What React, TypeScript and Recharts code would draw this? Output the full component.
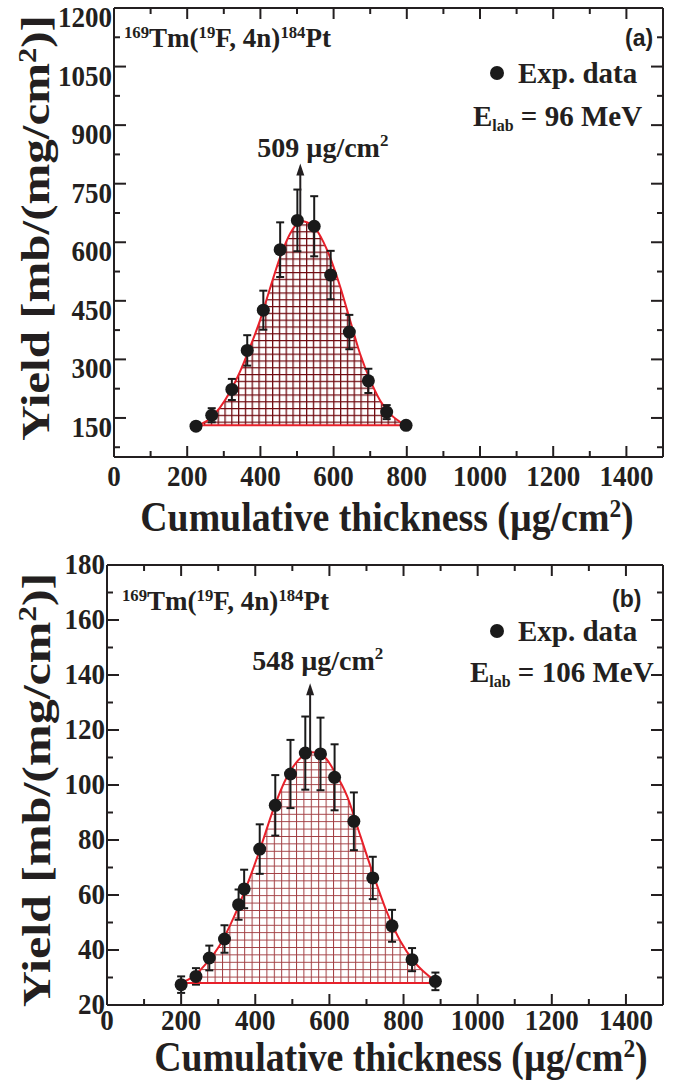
import React from 'react';
import { ComposedChart, Scatter, Area, XAxis, YAxis, ErrorBar, ReferenceLine } from 'recharts';

// ---- panel (a): Elab = 96 MeV ----
const thicknessA = [224, 267, 322, 364, 408, 454, 501, 547, 592, 643, 695, 745, 798];
const yieldA = [129, 157, 223, 323, 426, 581, 656, 641, 516, 370, 245, 165, 131];
const errA = [8, 18, 27, 39, 50, 70, 79, 77, 62, 44, 31, 18, 8];
// gaussian fit
const fitXA = [228, 262, 290, 317, 344, 372, 399, 426, 454, 481, 512, 545, 572, 595, 618, 645, 672, 700, 727, 754, 795];
const fitYA = [131, 148, 177, 217, 268, 332, 400, 481, 562, 622, 654, 641, 601, 550, 486, 400, 315, 247, 195, 161, 132];
const fitBaseA = 131;
const peakA = 509;

// ---- panel (b): Elab = 106 MeV ----
const thicknessB = [200, 240, 276, 317, 355, 370, 412, 454, 495, 535, 576, 614, 666, 717, 769, 823, 886];
const yieldB = [27.4, 30.4, 37.1, 44, 56.5, 62.2, 76.7, 92.6, 104, 111.6, 111.3, 102.8, 86.8, 66.2, 48.8, 36.5, 28.6];
const errB = [3, 3, 4.5, 5, 5.5, 7, 9, 11, 12.4, 13.3, 13.2, 12, 10.5, 7.7, 5.8, 4.2, 3.2];
const fitXB = [200, 233, 269, 305, 341, 378, 414, 450, 486, 522, 553, 585, 616, 648, 684, 720, 756, 792, 828, 887];
const fitYB = [28, 30.4, 35.3, 41.9, 51.6, 63.7, 77.1, 91.6, 103.1, 109.8, 111.9, 110.4, 104.4, 95.9, 81.3, 66.8, 53.5, 43.1, 35.9, 28.6];
const fitBaseB = 28;
const peakB = 548;

// ---- axes ----
const xTicks = [0, 100, 200, 300, 400, 500, 600, 700, 800, 900, 1000, 1100, 1200, 1300, 1400];
const yTicksA = [75, 150, 225, 300, 375, 450, 525, 600, 675, 750, 825, 900, 975, 1050, 1125, 1200];
const yTicksB = [20, 30, 40, 50, 60, 70, 80, 90, 100, 110, 120, 130, 140, 150, 160, 170, 180];

const FONT = "'Liberation Serif', 'Times New Roman', Times, serif";
const INK = '#231f20';
const RED = '#e8202a';

const sup = { fontSize: '0.62em', position: 'relative' as const, top: '-0.55em' };
const sub = { fontSize: '0.55em', position: 'relative' as const, top: '0.3em' };

function Txt({ x, y, size, children, family = FONT, center = false, style = {} }: any) {
  return (
    <div
      style={{
        position: 'absolute', left: x, top: y, fontFamily: family, fontWeight: 'bold', fontSize: size,
        lineHeight: 1, whiteSpace: 'nowrap', color: INK,
        transform: center ? 'translate(-50%, -50%)' : 'translateY(-50%)', ...style,
      }}
    >
      {children}
    </div>
  );
}

const tickText = (x: number, y: number, v: any, anchor: string) => (
  <text transform={`translate(${x},${y}) scale(0.9,1)`} textAnchor={anchor} fill={INK}
    style={{ fontFamily: FONT, fontWeight: 'bold', fontSize: 30 }}>{v}</text>
);

function Panel(props: any) {
  const { top, margin, points, fit, fitBase, yDomain, yTicks, yStep, yLabelDy, xLabelDy,
    arrow, arrowText, textDx, textGap, gridId, gridSize, gridColor, gridWidth } = props;

  const xTick = (p: any) => {
    const major = p.payload.value % 200 === 0;
    return (
      <g>
        <line x1={p.x} y1={p.y} x2={p.x} y2={p.y - (major ? 11 : 6)} stroke={INK} strokeWidth={2} />
        {major && tickText(p.x, p.y + xLabelDy, p.payload.value, 'middle')}
      </g>
    );
  };
  const topTick = (p: any) => {
    const major = p.payload.value % 200 === 0;
    return <line x1={p.x} y1={p.y} x2={p.x} y2={p.y + (major ? 11 : 6)} stroke={INK} strokeWidth={2} />;
  };
  const yTick = (p: any) => {
    const major = p.payload.value % yStep === 0;
    return (
      <g>
        <line x1={p.x} y1={p.y} x2={p.x + (major ? 12 : 6)} y2={p.y} stroke={INK} strokeWidth={2} />
        {major && tickText(p.x - 2, p.y + yLabelDy, p.payload.value, 'end')}
      </g>
    );
  };
  const rightTick = (p: any) => {
    const major = p.payload.value % yStep === 0;
    return <line x1={p.x} y1={p.y} x2={p.x - (major ? 12 : 6)} y2={p.y} stroke={INK} strokeWidth={2} />;
  };
  const arrowShape = (p: any) => (
    <g>
      <line x1={p.x1} y1={p.y1} x2={p.x2} y2={p.y2 + 8} stroke={INK} strokeWidth={2} />
      <path d={`M${p.x2} ${p.y2} L${p.x2 - 4} ${p.y2 + 12} L${p.x2 + 4} ${p.y2 + 12} Z`} fill={INK} />
      <text x={p.x2 + textDx} y={p.y2 - textGap} fill={INK} style={{ fontFamily: FONT, fontWeight: 'bold', fontSize: 28 }}>
        {arrowText} µg/cm<tspan dy={-11} fontSize={17}>2</tspan>
      </text>
    </g>
  );
  const axisLine = { stroke: INK, strokeWidth: 2 };

  return (
    <div style={{ position: 'absolute', left: 0, top, width: 683, height: 540 }}>
      <ComposedChart width={683} height={540} margin={margin}>
        <defs>
          <pattern id={gridId} width={gridSize} height={gridSize} patternUnits="userSpaceOnUse">
            <path d={`M0 0.5 H${gridSize} M0.5 0 V${gridSize}`} stroke={gridColor} strokeWidth={gridWidth} />
          </pattern>
        </defs>
        <XAxis dataKey="x" type="number" domain={[0, 1500]} ticks={xTicks} interval={0} allowDataOverflow
          tickSize={0} tickMargin={0} tickLine={false} axisLine={axisLine} tick={xTick} height={1} />
        <XAxis xAxisId="top" dataKey="x" orientation="top" type="number" domain={[0, 1500]} ticks={xTicks} interval={0}
          allowDataOverflow tickSize={0} tickMargin={0} tickLine={false} axisLine={axisLine} tick={topTick} height={1} />
        <YAxis dataKey="y" type="number" domain={yDomain} ticks={yTicks} interval={0} allowDataOverflow
          tickSize={0} tickMargin={0} tickLine={false} axisLine={axisLine} tick={yTick} width={60} />
        <YAxis yAxisId="right" dataKey="y" orientation="right" type="number" domain={yDomain} ticks={yTicks} interval={0}
          allowDataOverflow tickSize={0} tickMargin={0} tickLine={false} axisLine={axisLine} tick={rightTick} width={1} />
        {/* invisible copy of the points so the mirrored frame axes get drawn */}
        <Scatter data={points} dataKey="y" xAxisId="top" yAxisId="right" isAnimationActive={false}
          legendType="none" shape={() => <g />} />
        <Scatter data={points} dataKey="y" isAnimationActive={false}
          shape={(p: any) => <circle cx={p.cx} cy={p.cy} r={6.5} fill="#1a1a1a" />}>
          <ErrorBar dataKey="err" direction="y" width={4} stroke="#1a1a1a" strokeWidth={2} isAnimationActive={false} />
        </Scatter>
        <Area data={fit} dataKey="y" type="monotone" baseValue={fitBase} stroke={RED} strokeWidth={2}
          fill={`url(#${gridId})`} fillOpacity={1} isAnimationActive={false} dot={false} activeDot={false} />
        <ReferenceLine segment={[{ x: fit[0].x, y: fitBase }, { x: fit[fit.length - 1].x, y: fitBase }]}
          stroke={RED} strokeWidth={2} />
        <ReferenceLine segment={arrow} shape={arrowShape} />
      </ComposedChart>
    </div>
  );
}

const zip = (xs: number[], ys: number[], es?: number[]) =>
  xs.map((x, i) => ({ x, y: ys[i], ...(es ? { err: es[i] } : {}) }));

export default function App() {
  const yTitle = (cy: number, size: number) => (
    <Txt x={36} y={cy} size={size} center style={{ transform: 'translate(-50%, -50%) rotate(-90deg) scaleY(0.8)' }}>
      Yield [mb/(mg/cm<span style={sup}>2</span>)]
    </Txt>
  );
  const xTitle = (cy: number, cx: number) => (
    <Txt x={cx} y={cy} size={42} center style={{ transform: 'translate(-50%, -50%) scaleX(0.9)' }}>
      Cumulative thickness (µg/cm<span style={sup}>2</span>)
    </Txt>
  );
  const reaction = (x: number, y: number) => (
    <Txt x={x} y={y} size={27}>
      <span style={sup}>169</span>Tm(<span style={sup}>19</span>F, 4n)<span style={sup}>184</span>Pt
    </Txt>
  );
  const legend = (y: number) => (
    <>
      <div style={{ position: 'absolute', left: 490, top: y - 7, width: 14, height: 14, borderRadius: 7, background: '#1a1a1a' }} />
      <Txt x={518} y={y} size={29}>Exp. data</Txt>
    </>
  );

  return (
    <div style={{ position: 'absolute', left: 0, top: 0, width: 683, height: 1080, background: '#fff' }}>
      <Panel
        top={0}
        margin={{ top: 7, right: 19, bottom: 82, left: 54 }}
        points={zip(thicknessA, yieldA, errA)}
        fit={zip(fitXA, fitYA)}
        fitBase={fitBaseA}
        yDomain={[50, 1200]}
        yTicks={yTicksA}
        yStep={150}
        yLabelDy={19}
        xLabelDy={29}
        arrow={[{ x: peakA, y: 654 }, { x: peakA, y: 802 }]}
        arrowText={peakA}
        textDx={-43}
        textGap={6}
        gridId="gridA"
        gridSize={6.8}
        gridColor="#700a10"
        gridWidth={1.6}
      />
      <Panel
        top={540}
        margin={{ top: 24, right: 19, bottom: 74, left: 47 }}
        points={zip(thicknessB, yieldB, errB)}
        fit={zip(fitXB, fitYB)}
        fitBase={fitBaseB}
        yDomain={[20, 180]}
        yTicks={yTicksB}
        yStep={20}
        yLabelDy={9}
        xLabelDy={25}
        arrow={[{ x: peakB, y: 112 }, { x: peakB, y: 137 }]}
        arrowText={peakB}
        textDx={-58}
        textGap={13}
        gridId="gridB"
        gridSize={7.4}
        gridColor="#a03c40"
        gridWidth={1}
      />
      {yTitle(228, 49)}
      {yTitle(790, 50)}
      {xTitle(517, 387)}
      {xTitle(1057, 401)}
      {reaction(124, 38)}
      {reaction(122, 601)}
      <Txt x={625} y={38} size={23} family="'Liberation Sans', Arial, sans-serif">(a)</Txt>
      <Txt x={612} y={599} size={23} family="'Liberation Sans', Arial, sans-serif">(b)</Txt>
      {legend(73)}
      {legend(631)}
      <Txt x={473} y={116} size={29}>E<span style={sub}>lab</span> = 96 MeV</Txt>
      <Txt x={470} y={672} size={29}>E<span style={sub}>lab</span> = 106 MeV</Txt>
    </div>
  );
}
